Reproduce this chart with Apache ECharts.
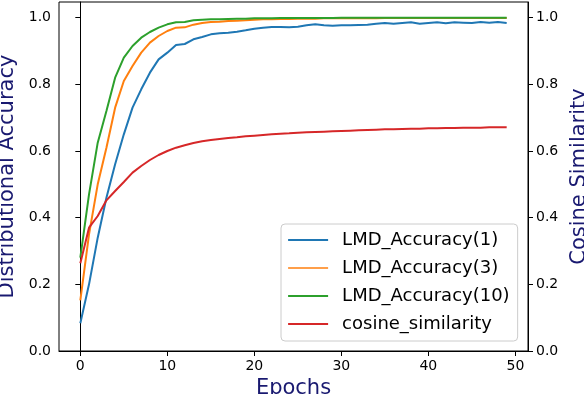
<!DOCTYPE html>
<html>
<head>
<meta charset="utf-8">
<script src="https://cdn.jsdelivr.net/npm/echarts@6/dist/echarts.min.js"></script>
<style>
  html, body { margin: 0; padding: 0; background: #fff; }
  #main { width: 584px; height: 394px; }
</style>
</head>
<body>
<div id="main"></div>
<script>
// epochs on the x axis
const epochs = [0,1,2,3,4,5,6,7,8,9,10,11,12,13,14,15,16,17,18,19,20,21,22,23,24,
  25,26,27,28,29,30,31,32,33,34,35,36,37,38,39,40,41,42,43,44,45,46,47,48,49];

const acc1 = [0.083,0.20,0.34,0.46,0.56,0.65,0.73,0.785,0.835,0.875,0.895,0.918,0.921,0.935,0.942,
  0.950,0.953,0.955,0.958,0.962,0.967,0.970,0.972,0.972,0.971,0.973,0.977,0.980,0.977,0.976,
  0.977,0.977,0.978,0.979,0.982,0.984,0.982,0.984,0.986,0.982,0.984,0.986,0.983,0.986,0.985,
  0.984,0.987,0.985,0.987,0.984];

const acc3 = [0.152,0.35,0.50,0.61,0.73,0.81,0.855,0.895,0.925,0.945,0.96,0.97,0.971,0.979,0.984,
  0.987,0.988,0.990,0.991,0.992,0.994,0.995,0.995,0.996,0.996,0.997,0.997,0.997,0.998,0.998,
  0.998,0.998,0.998,0.998,0.998,0.999,0.999,0.999,0.999,0.999,0.999,0.999,0.999,0.999,0.999,
  0.999,0.999,0.999,0.999,0.999];

const acc10 = [0.28,0.47,0.625,0.72,0.82,0.88,0.915,0.94,0.957,0.970,0.980,0.986,0.987,0.992,0.994,
  0.995,0.995,0.996,0.997,0.997,0.998,0.998,0.998,0.999,0.999,0.999,0.999,0.999,0.999,0.999,
  1.0,1.0,1.0,1.0,1.0,1.0,1.0,1.0,1.0,1.0,1.0,1.0,1.0,1.0,1.0,
  1.0,1.0,1.0,1.0,1.0];

const cosSim = [0.263,0.37,0.405,0.452,0.48,0.507,0.535,0.555,0.573,0.588,0.60,0.61,0.617,0.624,0.629,
  0.633,0.636,0.639,0.641,0.644,0.646,0.648,0.650,0.652,0.653,0.655,0.656,0.657,0.658,0.659,
  0.660,0.661,0.662,0.663,0.664,0.665,0.665,0.666,0.667,0.667,0.668,0.668,0.669,0.669,0.670,
  0.670,0.670,0.671,0.671,0.671];

const xTicks = [0, 10, 20, 30, 40, 50];
const yTicks = [0, 0.2, 0.4, 0.6, 0.8, 1.0];

const seriesNames = ["LMD_Accuracy(1)", "LMD_Accuracy(3)", "LMD_Accuracy(10)", "cosine_similarity"];
const colors = ["#1f77b4", "#ff7f0e", "#2ca02c", "#d62728"];

const FONT = "DejaVu Sans";
const labelColor = "#191970";

function pairs(ys) {
  return epochs.map((x, i) => [x, ys[i]]);
}

function yAxisOf(pos, name, gap) {
  return {
    type: "value",
    position: pos,
    min: 0,
    max: 1.047,
    name: name,
    nameLocation: "middle",
    nameRotate: 90,
    nameGap: gap,
    nameTextStyle: { fontFamily: FONT, fontSize: 21, color: labelColor },
    axisLine: { show: true, lineStyle: { color: "#000", width: 1 } },
    axisTick: { show: true, length: 5, lineStyle: { color: "#000" }, customValues: yTicks },
    axisLabel: {
      fontFamily: FONT, fontSize: 14, color: "#000", margin: 8,
      customValues: yTicks,
      formatter: (v) => v.toFixed(1),
    },
    splitLine: { show: false },
  };
}

const chart = echarts.init(document.getElementById("main"));

const all = [acc1, acc3, acc10, cosSim];
const series = all.map((d, i) => ({
  name: seriesNames[i],
  type: "line",
  yAxisIndex: i === 3 ? 1 : 0,
  data: pairs(d),
  symbol: "none",
  showSymbol: false,
  lineStyle: { color: colors[i], width: 2 },
  itemStyle: { color: colors[i] },
  z: 2 + i,
}));

chart.setOption({
  animation: false,
  backgroundColor: "#fff",
  grid: {
    left: 59, right: 56, top: 2, bottom: 43,
    show: true, borderColor: "#000", borderWidth: 1,
    outerBoundsMode: "none",
  },
  legend: {
    orient: "vertical",
    left: 281,
    top: 224,
    padding: [7, 8, 8, 6],
    itemWidth: 40,
    itemHeight: 14,
    itemGap: 10,
    backgroundColor: "rgba(255,255,255,0.8)",
    borderColor: "#cccccc",
    borderWidth: 1,
    borderRadius: 4,
    // hide the symbol that line series put in the middle of the legend line
    itemStyle: { opacity: 0 },
    textStyle: { fontFamily: FONT, fontSize: 18, color: "#000", lineHeight: 18, padding: [0, 0, 0, 9] },
    data: seriesNames.map((n, i) => ({
      name: n,
      lineStyle: { width: i === 1 ? 1.4 : 2.2, opacity: 1 },
    })),
  },
  xAxis: {
    type: "value",
    min: -2.45,
    max: 51.45,
    name: "Epochs",
    nameLocation: "middle",
    nameGap: 22,
    nameTextStyle: { fontFamily: FONT, fontSize: 21, color: labelColor },
    axisLine: { show: true, onZero: false, lineStyle: { color: "#000", width: 1 } },
    axisTick: { show: true, length: 5, lineStyle: { color: "#000" }, customValues: xTicks },
    axisLabel: { fontFamily: FONT, fontSize: 14, color: "#000", margin: 8, customValues: xTicks },
    splitLine: { show: false },
  },
  yAxis: [
    yAxisOf("left", "Distributional Accuracy", 36),
    yAxisOf("right", "Cosine Similarity", 32),
  ],
  series: series,
});
</script>
</body>
</html>
